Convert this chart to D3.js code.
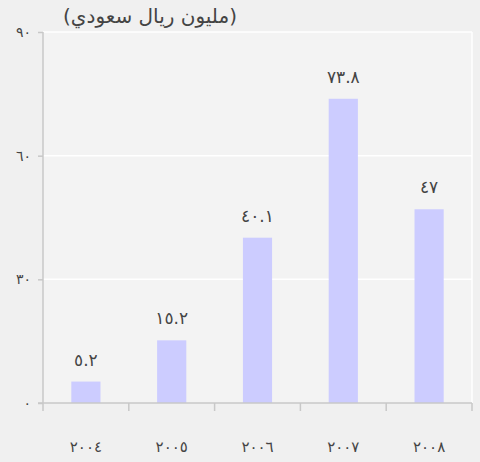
<!DOCTYPE html>
<html>
<head>
<meta charset="utf-8">
<script src="https://cdn.jsdelivr.net/npm/d3@7"></script>
<style>
  html, body { margin: 0; padding: 0; background: #f0f0f0; }
  svg text { font-family: "DejaVu Sans", sans-serif; fill: #444; }
</style>
</head>
<body>
<div class="grafic"></div>
<script>
// السنوات والقيم (مليون ريال سعودي)
const years = ["٢٠٠٤", "٢٠٠٥", "٢٠٠٦", "٢٠٠٧", "٢٠٠٨"];
const values = [5.2, 15.2, 40.1, 73.8, 47];
const valueLabels = ["٥.٢", "١٥.٢", "٤٠.١", "٧٣.٨", "٤٧"];
const yTicks = [0, 30, 60, 90];
const yTickLabels = ["٠", "٣٠", "٦٠", "٩٠"];
const title = "(مليون ريال سعودي)";

let w = 480, h = 462;
let padL = 43, padR = 472, padT = 32, padB = 403;

let svg = d3.select(".grafic")
    .append("svg")
    .attr("width", w)
    .attr("height", h);

svg.append("rect")
    .attr("width", w).attr("height", h)
    .attr("fill", "#f0f0f0");

svg.append("rect")
    .attr("x", padL).attr("y", padT)
    .attr("width", padR - padL).attr("height", padB - padT)
    .attr("fill", "#f3f3f3");

let xScale = d3.scaleBand()
    .domain(years)
    .range([padL, padR])
    .paddingInner(0.66)
    .paddingOuter(0.33);

let yScale = d3.scaleLinear()
    .domain([0, 90])
    .range([padB, padT]);

// خطوط الشبكة
svg.append("g")
    .selectAll("line")
    .data(yTicks.filter(d => d > 0))
    .enter()
    .append("line")
    .attr("x1", padL).attr("x2", padR)
    .attr("y1", d => yScale(d)).attr("y2", d => yScale(d))
    .attr("stroke", "#ffffff")
    .attr("stroke-width", 1.5);

svg.append("line")
    .attr("x1", padR).attr("x2", padR)
    .attr("y1", padT).attr("y2", padB)
    .attr("stroke", "#ffffff")
    .attr("stroke-width", 1.5);

// الأعمدة
svg.append("g")
    .selectAll("rect")
    .data(values)
    .enter()
    .append("rect")
    .attr("x", (d, i) => xScale(years[i]))
    .attr("y", d => yScale(d))
    .attr("width", xScale.bandwidth())
    .attr("height", d => padB - yScale(d))
    .attr("fill", "#ccccff");

svg.append("g")
    .selectAll("text")
    .data(values)
    .enter()
    .append("text")
    .attr("x", (d, i) => xScale(years[i]) + xScale.bandwidth() / 2)
    .attr("y", d => yScale(d) - 16)
    .attr("text-anchor", "middle")
    .attr("font-size", 17)
    .text((d, i) => valueLabels[i]);

// المحور Y
let yAxis = d3.axisLeft(yScale)
    .tickValues(yTicks)
    .tickSize(5)
    .tickPadding(7)
    .tickFormat((d, i) => yTickLabels[i]);

let gy = svg.append("g")
    .attr("transform", "translate(" + padL + ",0)")
    .call(yAxis);
gy.selectAll("line, path").attr("stroke", "#c8c8c8").attr("stroke-width", 1.5);
gy.select("path").attr("d", "M0," + padT + "V" + padB);
gy.selectAll("text").attr("font-size", 14).attr("direction", "ltr");

// المحور X
let xAxis = d3.axisBottom(xScale)
    .tickSize(0)
    .tickPadding(38);

let gx = svg.append("g")
    .attr("transform", "translate(0," + padB + ")")
    .call(xAxis);
gx.select("path").attr("stroke", "#c8c8c8").attr("stroke-width", 1.5)
    .attr("d", "M" + (padL - 5) + ",0H" + padR);
gx.selectAll("text").attr("font-size", 15).attr("direction", "ltr");

svg.append("g")
    .selectAll("line")
    .data(d3.range(years.length + 1))
    .enter()
    .append("line")
    .attr("x1", i => padL + i * (padR - padL) / years.length)
    .attr("x2", i => padL + i * (padR - padL) / years.length)
    .attr("y1", padB).attr("y2", padB + 8)
    .attr("stroke", "#c8c8c8")
    .attr("stroke-width", 1.5);

svg.append("text")
    .attr("x", 150)
    .attr("y", 23)
    .attr("text-anchor", "middle")
    .attr("font-size", 20)
    .text(title);
</script>
</body>
</html>
